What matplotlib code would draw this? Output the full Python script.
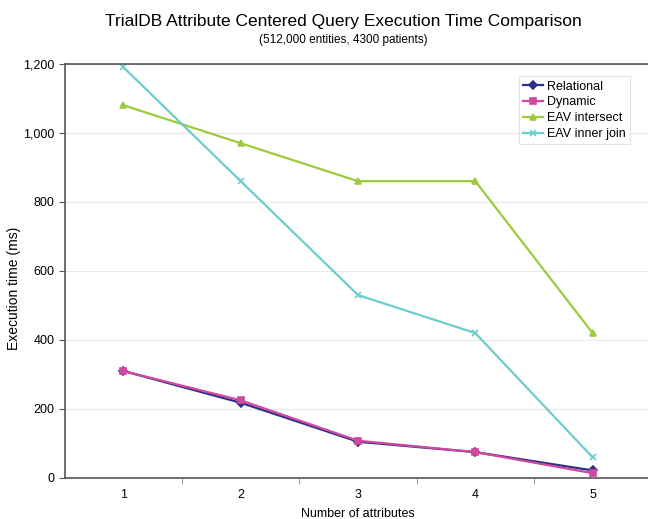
import matplotlib.pyplot as plt
from matplotlib.ticker import FuncFormatter, FixedLocator

plt.rcParams['font.family'] = ['Liberation Sans', 'DejaVu Sans']

attributes = [1, 2, 3, 4, 5]
relational = [310, 218, 105, 75, 22]
dynamic = [310, 225, 108, 75, 14]
eav_intersect = [1080, 970, 860, 860, 420]
eav_inner_join = [1190, 860, 530, 420, 60]

series = [
    ('Relational', relational, '#2B2F86', 'D', 4),
    ('Dynamic', dynamic, '#D2479F', 's', 5),
    ('EAV intersect', eav_intersect, '#9CCB3B', '^', 5),
    ('EAV inner join', eav_inner_join, '#6DCCCC', 'x', 5),
]

fig = plt.figure(figsize=(6.48, 5.19), dpi=100)
ax = fig.add_axes([0.100, 0.079, 0.905, 0.798])

for name, vals, color, marker, ms in series:
    ax.plot(attributes, vals, color=color, marker=marker, markersize=ms,
            linewidth=1.6, label=name, markeredgewidth=1.2)

ax.set_xlim(0.5, 5.5)
ax.set_ylim(0, 1200)
ax.set_yticks(range(0, 1201, 200))
ax.yaxis.set_major_formatter(FuncFormatter(lambda v, p: f'{int(v):,}'))
ax.set_xticks(attributes)
ax.xaxis.set_minor_locator(FixedLocator([1.5, 2.5, 3.5, 4.5]))
ax.tick_params(axis='x', which='major', length=0, labelsize=9, pad=8)
ax.tick_params(axis='x', which='minor', length=4, color='#888888')
ax.tick_params(axis='y', length=4, labelsize=9, color='#555555')
ax.grid(axis='y', color='#e8e8e8', linewidth=0.8)
ax.set_axisbelow(True)
for side in ['left', 'bottom', 'top']:
    ax.spines[side].set_color('#555555')
    ax.spines[side].set_linewidth(1.2)
ax.spines['right'].set_visible(False)

ax.set_xlabel('Number of attributes', fontsize=9, labelpad=5)
ax.set_ylabel('Execution time (ms)', fontsize=10)
ax.yaxis.set_label_coords(-0.074, 0.459)

fig.text(0.53, 0.959, 'TrialDB Attribute Centered Query Execution Time Comparison',
         ha='center', va='center', fontsize=12.5)
fig.text(0.53, 0.922, '(512,000 entities, 4300 patients)',
         ha='center', va='center', fontsize=8.5)

leg = ax.legend(loc='upper right', bbox_to_anchor=(0.975, 0.985), fontsize=9,
                frameon=True, fancybox=False, handlelength=1.6,
                handletextpad=0.3, borderpad=0.35, labelspacing=0.3)
leg.get_frame().set_edgecolor('#dddddd')
leg.get_frame().set_linewidth(0.8)

fig.savefig('out.png', dpi=100)
